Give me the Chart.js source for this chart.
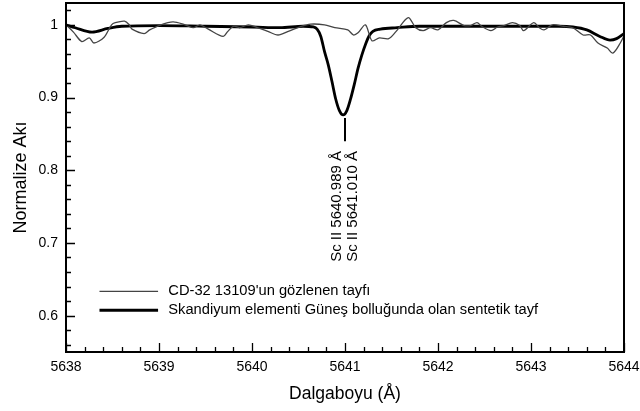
<!DOCTYPE html>
<html>
<head>
<meta charset="utf-8">
<script src="https://cdn.jsdelivr.net/npm/chart.js@4/dist/chart.umd.min.js"></script>
<style>
html,body{margin:0;padding:0;background:#fff;}
#wrap{position:relative;width:640px;height:411px;}
</style>
</head>
<body>
<div id="wrap"><canvas id="c" width="640" height="411"></canvas></div>
<script>
// Observed spectrum (CD-32 13109)
const obsWave = [5638.00,5638.08,5638.17,5638.25,5638.30,5638.41,5638.49,5638.53,5638.63,5638.68,5638.71,5638.84,5638.90,5639.00,5639.15,5639.28,5639.37,5639.44,5639.53,5639.69,5639.74,5639.80,5639.87,5639.96,5640.06,5640.17,5640.28,5640.39,5640.53,5640.63,5640.78,5640.89,5641.03,5641.09,5641.14,5641.22,5641.29,5641.37,5641.47,5641.55,5641.68,5641.76,5641.84,5641.92,5642.00,5642.09,5642.17,5642.28,5642.35,5642.42,5642.47,5642.57,5642.64,5642.71,5642.80,5642.88,5642.92,5643.03,5643.09,5643.14,5643.23,5643.35,5643.45,5643.56,5643.64,5643.72,5643.82,5643.88,5643.96,5644.00];
const obsFlux = [1.000,0.990,0.977,0.982,0.975,0.983,1.000,1.003,1.005,1.000,0.994,0.988,0.993,0.999,1.004,1.000,0.996,1.000,0.994,0.984,0.991,0.998,0.996,1.000,0.996,0.991,0.986,0.991,0.998,1.001,1.000,0.996,0.993,0.986,0.989,1.000,0.978,0.982,0.981,0.991,1.010,0.996,0.992,0.996,0.993,1.003,1.006,0.999,0.999,1.003,0.998,0.992,0.997,0.999,1.003,0.999,0.992,1.003,0.996,0.993,1.000,0.998,0.996,0.986,0.986,0.975,0.968,0.961,0.975,0.985];
// Synthetic spectrum (solar Sc abundance)
const synWave = [5638.00,5638.10,5638.28,5638.45,5638.60,5639.00,5639.50,5640.00,5640.30,5640.55,5640.66,5640.70,5640.74,5640.78,5640.82,5640.86,5640.90,5640.94,5640.98,5641.02,5641.06,5641.10,5641.14,5641.18,5641.22,5641.26,5641.30,5641.38,5641.56,5641.80,5642.50,5643.00,5643.30,5643.45,5643.60,5643.74,5643.85,5643.92,5644.00];
const synFlux = [1.000,0.996,0.990,0.995,0.998,0.999,0.998,0.997,0.996,0.998,0.997,0.994,0.984,0.963,0.945,0.922,0.898,0.882,0.876,0.882,0.898,0.918,0.940,0.958,0.973,0.985,0.991,0.994,0.996,0.998,0.998,0.998,0.998,0.997,0.993,0.984,0.979,0.981,0.988];
const xTicks = [5638,5639,5640,5641,5642,5643,5644];
const yTicks = [0.6,0.7,0.8,0.9,1.0];
const legendLabels = ["CD-32 13109'un gözlenen tayfı","Skandiyum elementi Güneş bolluğunda olan sentetik tayf"];
const lineLabels = ["Sc II 5640.989 Å","Sc II 5641.010 Å"];
const lineCenter = 5641.0;

const FONT = "'Liberation Sans', Arial, Helvetica, sans-serif";

const framePlugin = {
  id:'frame',
  afterDraw(chart){
    const {ctx, chartArea:a, scales} = chart;
    const xs = scales.x, ys = scales.y;
    ctx.save();
    // ticks inward
    ctx.strokeStyle='#000'; ctx.lineWidth=1.3;
    ctx.beginPath();
    for(let v=5638; v<=5644.001; v+=0.2){
      const px = Math.round(xs.getPixelForValue(v))+0.5;
      const major = Math.abs(v-Math.round(v))<1e-6;
      const L = major?9:5;
      ctx.moveTo(px,a.bottom); ctx.lineTo(px,a.bottom-L);
    }
    for(let v=0.56; v<=1.03; v+=0.02){
      const py = Math.round(ys.getPixelForValue(v))+0.5;
      const major = Math.abs(v*10-Math.round(v*10))<1e-6;
      const L = major?9:5;
      ctx.moveTo(a.left,py); ctx.lineTo(a.left+L,py);
    }
    ctx.stroke();
    // frame
    ctx.lineWidth=2;
    ctx.strokeRect(a.left,a.top,a.right-a.left,a.bottom-a.top);
    // annotation
    const cx = xs.getPixelForValue(lineCenter);
    ctx.lineWidth=2;
    ctx.beginPath();
    ctx.moveTo(cx, ys.getPixelForValue(0.872)); ctx.lineTo(cx, ys.getPixelForValue(0.840));
    ctx.stroke();
    ctx.fillStyle='#000';
    ctx.font = "15px "+FONT;
    ctx.textAlign='left'; ctx.textBaseline='middle';
    const startY = ys.getPixelForValue(0.674);
    [[-8,lineLabels[0]],[8,lineLabels[1]]].forEach(([dx,t])=>{
      ctx.save();
      ctx.translate(cx+dx, startY);
      ctx.rotate(-Math.PI/2);
      ctx.fillText(t,0,0);
      ctx.restore();
    });
    // legend
    const lx0 = xs.getPixelForValue(5638.36), lx1 = xs.getPixelForValue(5638.99);
    const tx = xs.getPixelForValue(5639.1);
    const ly = [ys.getPixelForValue(0.6335), ys.getPixelForValue(0.6075)];
    ctx.font = "14.7px "+FONT;
    ctx.strokeStyle='#444'; ctx.lineWidth=1.3;
    ctx.beginPath(); ctx.moveTo(lx0,ly[0]); ctx.lineTo(lx1,ly[0]); ctx.stroke();
    ctx.strokeStyle='#000'; ctx.lineWidth=3;
    ctx.beginPath(); ctx.moveTo(lx0,ly[1]); ctx.lineTo(lx1,ly[1]); ctx.stroke();
    ctx.fillText(legendLabels[0], tx, ly[0]);
    ctx.fillText(legendLabels[1], tx, ly[1]);
    ctx.restore();
  }
};

new Chart(document.getElementById('c'), {
  type:'line',
  data:{
    datasets:[
      {label:legendLabels[0], data:obsWave.map((w,i)=>({x:w,y:obsFlux[i]})), borderColor:'#444', borderWidth:1.3, pointRadius:0, tension:0.3, fill:false},
      {label:legendLabels[1], data:synWave.map((w,i)=>({x:w,y:synFlux[i]})), borderColor:'#000', borderWidth:2.8, pointRadius:0, cubicInterpolationMode:'monotone', fill:false}
    ]
  },
  options:{
    responsive:false, animation:false, devicePixelRatio:1,
    layout:{padding:{top:3,right:16,left:0,bottom:0}},
    plugins:{legend:{display:false}, tooltip:{enabled:false}},
    scales:{
      x:{type:'linear', min:5638, max:5644,
        afterBuildTicks:s=>{s.ticks=xTicks.map(v=>({value:v}));},
        afterFit:s=>{s.height=59; s.paddingLeft=0; s.paddingRight=0;},
        grid:{display:false, drawTicks:false}, border:{display:false},
        ticks:{padding:7, color:'#000', font:{family:FONT,size:14}, callback:v=>String(v), maxRotation:0},
        title:{display:true, text:'Dalgaboyu (Å)', color:'#000', font:{family:FONT,size:17.5}, padding:{top:4,bottom:6}}
      },
      y:{type:'linear', min:0.55, max:1.03,
        afterBuildTicks:s=>{s.ticks=yTicks.map(v=>({value:v}));},
        afterFit:s=>{s.width=66; s.paddingTop=0; s.paddingBottom=0;},
        grid:{display:false, drawTicks:false}, border:{display:false},
        ticks:{padding:8, color:'#000', font:{family:FONT,size:14}, callback:v=>(Math.abs(v-1)<1e-9?'1':v.toFixed(1))},
        title:{display:true, text:'Normalize Akı', color:'#000', font:{family:FONT,size:18}, padding:{top:10,bottom:4}}
      }
    }
  },
  plugins:[framePlugin]
});
</script>
</body>
</html>
